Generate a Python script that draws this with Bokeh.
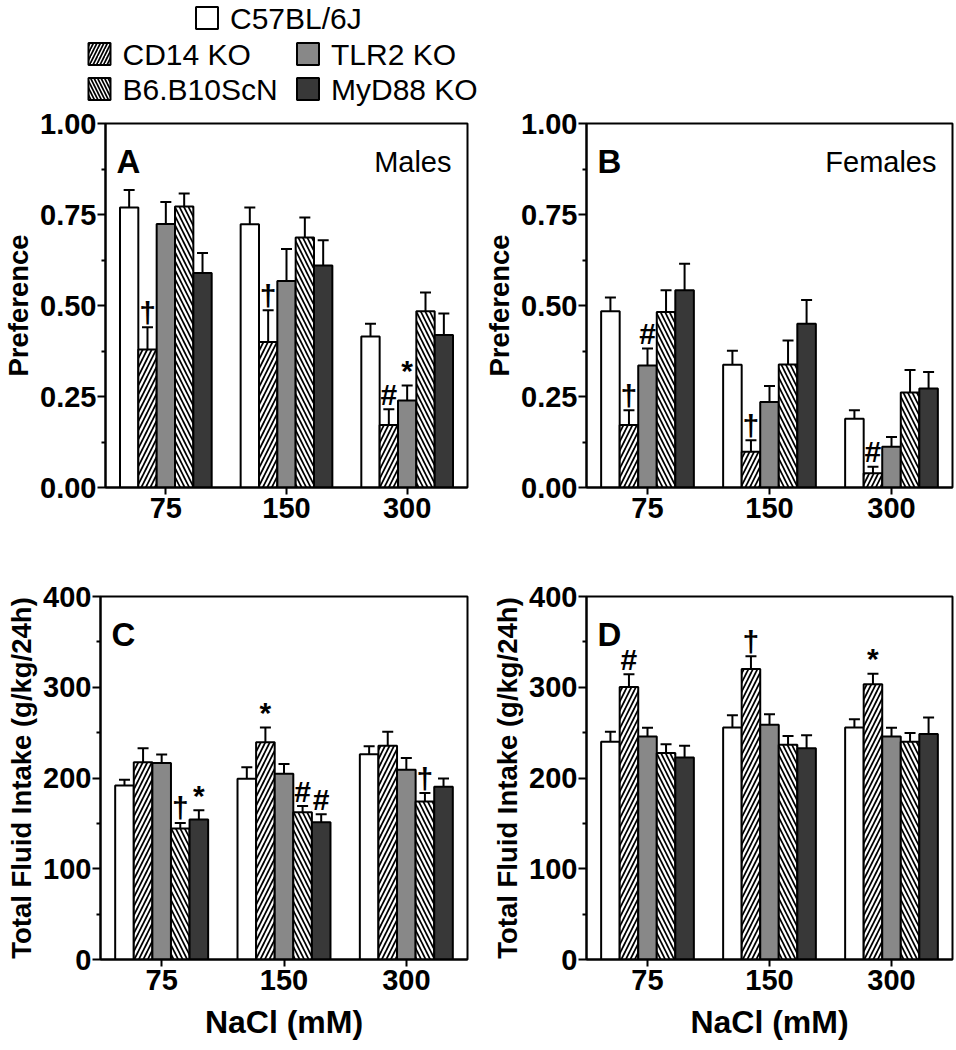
from bokeh.plotting import figure
from bokeh.layouts import column, row
from bokeh.models import Range1d, FixedTicker, NumeralTickFormatter
from bokeh.embed import file_html
from bokeh.resources import INLINE
from bokeh.core.properties import value

FONT = "Liberation Sans"

doses = ["75", "150", "300"]
strains = ["C57BL/6J", "CD14 KO", "TLR2 KO", "B6.B10ScN", "MyD88 KO"]

# rows follow `strains`, columns follow `doses`
males_pref = [
    [0.769, 0.723, 0.415],
    [0.379, 0.400, 0.172],
    [0.724, 0.567, 0.239],
    [0.772, 0.687, 0.484],
    [0.589, 0.610, 0.419],
]
males_pref_sem = [
    [0.048, 0.046, 0.035],
    [0.061, 0.087, 0.043],
    [0.060, 0.088, 0.041],
    [0.036, 0.055, 0.052],
    [0.055, 0.069, 0.059],
]
females_pref = [
    [0.484, 0.337, 0.189],
    [0.172, 0.098, 0.039],
    [0.335, 0.235, 0.112],
    [0.482, 0.338, 0.261],
    [0.542, 0.450, 0.272],
]
females_pref_sem = [
    [0.038, 0.039, 0.023],
    [0.040, 0.032, 0.018],
    [0.047, 0.044, 0.027],
    [0.060, 0.066, 0.062],
    [0.073, 0.065, 0.045],
]
males_intake = [
    [191.8, 199.1, 226.1],
    [217.4, 239.3, 235.6],
    [216.6, 204.6, 209.0],
    [144.3, 162.2, 174.2],
    [154.2, 151.2, 190.3],
]
males_intake_sem = [
    [6.2, 12.8, 8.8],
    [15.3, 16.4, 15.4],
    [9.2, 10.9, 13.1],
    [6.2, 6.9, 9.2],
    [10.2, 8.8, 9.2],
]
females_intake = [
    [240.0, 255.7, 255.7],
    [300.3, 320.0, 303.2],
    [245.8, 258.6, 245.8],
    [227.6, 236.7, 240.0],
    [222.5, 232.7, 248.4],
]
females_intake_sem = [
    [11.0, 13.5, 9.1],
    [13.9, 14.2, 11.7],
    [9.5, 11.7, 9.5],
    [9.5, 9.5, 9.5],
    [13.1, 14.3, 18.3],
]

# significance marks: (dose index, strain index, symbol)
annot_A = [(0, 1, "\u2020"), (1, 1, "\u2020"), (2, 1, "#"), (2, 2, "*")]
annot_B = [(0, 1, "\u2020"), (0, 2, "#"), (1, 1, "\u2020"), (2, 1, "#")]
annot_C = [(0, 3, "\u2020"), (0, 4, "*"), (1, 1, "*"), (1, 3, "#"), (1, 4, "#"), (2, 3, "\u2020")]
annot_D = [(0, 1, "#"), (1, 1, "\u2020"), (2, 1, "*")]

fills = ["white", "white", "#888888", "white", "#383838"]
hatches = [None, "/", None, "\\", None]
BAR_W = 0.152


def panel(mean, sem, ymax, ystep, fmt, letter, sex, ylabel, xlabel, annots,
          w, h, bl, br, bt, bb):
    p = figure(width=w, height=h, x_range=Range1d(0.5, 3.5), y_range=Range1d(0, ymax),
               output_backend="svg", toolbar_location=None,
               min_border_left=bl, min_border_right=br, min_border_top=bt, min_border_bottom=bb)
    p.xgrid.visible = False
    p.ygrid.visible = False
    p.outline_line_color = "black"
    p.outline_line_width = 2
    p.outline_line_alpha = 1.0
    xs = [i + 1 for i in range(len(doses))]
    for k in range(len(strains)):
        xk = [x + (k - 2) * BAR_W for x in xs]
        top = [m + s for m, s in zip(mean[k], sem[k])]
        p.segment(x0=xk, y0=mean[k], x1=xk, y1=top, line_color="black", line_width=2)
        p.scatter(x=xk, y=top, marker="dash", size=11, line_color="black", line_width=2)
        p.vbar(x=xk, top=mean[k], bottom=0, width=BAR_W, fill_color=fills[k],
               line_color="black", line_width=2, hatch_pattern=hatches[k],
               hatch_color="black", hatch_scale=9, hatch_weight=1.7)
    ax_x = [d + 1 + (s - 2) * BAR_W for d, s, _ in annots]
    ax_y = [mean[s][d] + sem[s][d] for d, s, _ in annots]
    p.text(x=ax_x, y=ax_y, text=[t for _, _, t in annots], y_offset=-15,
           text_align="center", text_baseline="alphabetic",
           text_font=value(FONT), text_font_style="bold", text_font_size="30px",
           text_color="black")
    p.text(x=[0.5], y=[ymax], text=[letter], x_offset=11, y_offset=38,
           text_align="left", text_baseline="alphabetic",
           text_font=value(FONT), text_font_style="bold", text_font_size="33px",
           text_color="black")
    if sex:
        p.text(x=[3.5], y=[ymax], text=[sex], x_offset=-16, y_offset=38,
               text_align="right", text_baseline="alphabetic",
               text_font=value(FONT), text_font_size="29px", text_color="black")

    p.xaxis.ticker = FixedTicker(ticks=xs)
    p.xaxis.major_label_overrides = {x: d for x, d in zip(xs, doses)}
    n = int(round(ymax / ystep))
    yt = [round(i * ystep, 6) for i in range(n + 1)]
    minor = [round((i + 0.5) * ystep, 6) for i in range(n)]
    p.yaxis.ticker = FixedTicker(ticks=yt, minor_ticks=minor)
    p.yaxis.formatter = NumeralTickFormatter(format=fmt)
    for ax in p.axis:
        ax.axis_line_width = 2
        ax.axis_line_color = "black"
        ax.major_tick_line_width = 2
        ax.minor_tick_line_width = 2
        ax.major_tick_in = 0
        ax.minor_tick_in = 0
        ax.major_label_text_font = FONT
        ax.major_label_text_font_style = "bold"
        ax.major_label_text_font_size = "29px"
        ax.major_label_text_color = "black"
        ax.axis_label_text_font = FONT
        ax.axis_label_text_font_style = "bold"
        ax.axis_label_text_color = "black"
    p.xaxis.major_tick_out = 7
    p.xaxis.minor_tick_out = 0
    p.xaxis.major_label_standoff = 3
    p.yaxis.major_tick_out = 8
    p.yaxis.minor_tick_out = 4
    p.yaxis.major_label_standoff = 1
    p.yaxis.axis_label = ylabel
    p.yaxis.axis_label_text_font_size = "27.5px"
    p.yaxis.axis_label_standoff = 3
    if xlabel:
        p.xaxis.axis_label = xlabel
        p.xaxis.axis_label_text_font_size = "32px"
        p.xaxis.axis_label_standoff = 11
    return p


# legend
leg = figure(width=956, height=106, x_range=Range1d(0, 956), y_range=Range1d(106, 0),
             output_backend="svg", toolbar_location=None, min_border=0,
             x_axis_location=None, y_axis_location=None)
leg.xgrid.visible = False
leg.ygrid.visible = False
leg.outline_line_color = None
leg_x = [206.5, 99, 307.5, 99, 307.5]
leg_y = [17.5, 53.5, 53.5, 88.5, 88.5]
for k in range(len(strains)):
    leg.rect(x=[leg_x[k]], y=[leg_y[k]], width=22, height=22, fill_color=fills[k],
             line_color="black", line_width=2, hatch_pattern=hatches[k],
             hatch_color="black", hatch_scale=7, hatch_weight=1.7)
leg.text(x=[x + 23 for x in leg_x], y=leg_y, text=strains, text_align="left",
         text_baseline="middle", text_font=value(FONT), text_font_size="30px",
         text_color="black")

pA = panel(males_pref, males_pref_sem, 1.0, 0.25, "0.00", "A", "Males", "Preference", None,
           annot_A, 478, 431, 100, 11, 17, 50)
pB = panel(females_pref, females_pref_sem, 1.0, 0.25, "0.00", "B", "Females", "Preference", None,
           annot_B, 478, 431, 108, 4, 17, 50)
pC = panel(males_intake, males_intake_sem, 400, 100, "0", "C", None,
           "Total Fluid Intake (g/kg/24h)", "NaCl (mM)", annot_C, 478, 513, 100, 11, 59, 91)
pD = panel(females_intake, females_intake_sem, 400, 100, "0", "D", None,
           "Total Fluid Intake (g/kg/24h)", "NaCl (mM)", annot_D, 478, 513, 108, 4, 59, 91)

layout = column(leg, row(pA, pB), row(pC, pD))
open("out.html", "w").write(file_html(layout, INLINE))
